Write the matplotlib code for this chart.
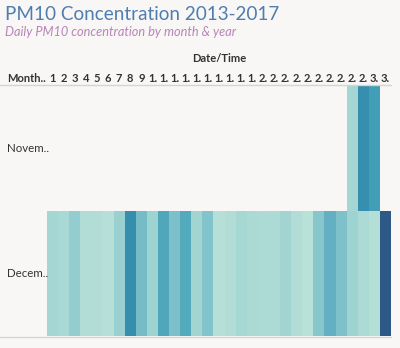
import numpy as np
import matplotlib
matplotlib.use("Agg")
import matplotlib.pyplot as plt
from matplotlib.colors import LinearSegmentedColormap, Normalize
from matplotlib.lines import Line2D
import matplotlib.transforms as mtrans

# ---- data ----
months = ["Novem..", "Decem.."]
days = list(range(1, 32))
day_labels = ["1", "2", "3", "4", "5", "6", "7", "8", "9",
              "1.", "1.", "1.", "1.", "1.", "1.", "1.", "1.", "1.", "1.",
              "2.", "2.", "2.", "2.", "2.", "2.", "2.", "2.", "2.", "2.",
              "3.", "3."]
nov_days = [28, 29, 30]
nov_values = [41, 101, 90]
dec_values = [41, 39, 49, 35, 35, 33, 46, 102, 64, 44,
              82, 61, 80, 42, 58, 33, 35, 40, 38, 37,
              37, 42, 35, 32, 55, 74, 60, 44, 37, 34, 144]

palette = ["#bce4d8", "#aedcd5", "#a1d5d2", "#95cecf", "#89c8cc", "#7ec1ca",
           "#72bac6", "#66b2c2", "#59acbe", "#4ba5ba", "#419eb6", "#3b96b2",
           "#358ead", "#3586a7", "#347ea1", "#32779b", "#316f96", "#2f6790",
           "#2d608a", "#2c5985"]

plt.rcParams['font.family'] = ['Lato', 'DejaVu Sans']
BG = "#f8f7f5"

fig = plt.figure(figsize=(4.0, 3.48), dpi=100, facecolor=BG)
W, H = 400.0, 348.0
x0, x1 = 47, 391
y_top, y_bot = 86, 336
ax = fig.add_axes([x0 / W, 1 - y_bot / H, (x1 - x0) / W, (y_bot - y_top) / H])
ax.set_facecolor(BG)

grid = np.full((len(months), len(days)), np.nan)
for d, v in zip(nov_days, nov_values):
    grid[0, d - 1] = v
grid[1, :] = dec_values
masked = np.ma.masked_invalid(grid)

cmap = LinearSegmentedColormap.from_list("blueteal", palette)
norm = Normalize(vmin=30, vmax=144)
xe = np.arange(0.5, len(days) + 1.5)
ye = np.arange(-0.5, len(months))
ax.pcolormesh(xe, ye, masked, cmap=cmap, norm=norm, edgecolors="none")
ax.set_xlim(0.5, len(days) + 0.5)
ax.set_ylim(len(months) - 0.5, -0.5)
ax.axis("off")

TXT = "#333333"
# titles
fig.text(5 / W, 1 - 19.5 / H, "PM10 Concentration 2013-2017", fontsize=13.6,
         color="#4f7db0", ha="left", va="baseline")
fig.text(5 / W, 1 - 35.5 / H, "Daily PM10 concentration by month & year", fontsize=9.2,
         color="#b884b8", style="italic", ha="left", va="baseline")
fig.text((x0 + x1) / 2 / W, 1 - 59 / H, "Date/Time", fontsize=8, color=TXT,
         fontweight="bold", ha="center", va="center")
fig.text(7 / W, 1 - 78 / H, "Month..", fontsize=8, color=TXT,
         fontweight="bold", ha="left", va="center")

tr_top = mtrans.blended_transform_factory(ax.transData, fig.transFigure)
for d, lab in zip(days, day_labels):
    ax.text(d, 1 - 78 / H, lab, transform=tr_top, fontsize=8, color=TXT,
            fontweight="bold", ha="center", va="center", clip_on=False)

tr_left = mtrans.blended_transform_factory(fig.transFigure, ax.transData)
for i, m in enumerate(months):
    ax.text(7 / W, i, m, transform=tr_left, fontsize=8.3, color=TXT,
            ha="left", va="center", clip_on=False)

# header / footer lines
for yy in (85, 336.5):
    fig.add_artist(Line2D([0, 391 / W], [1 - yy / H, 1 - yy / H],
                          transform=fig.transFigure, color="#d4d4d4", lw=1))

fig.savefig("out.png", dpi=100, facecolor=BG)
